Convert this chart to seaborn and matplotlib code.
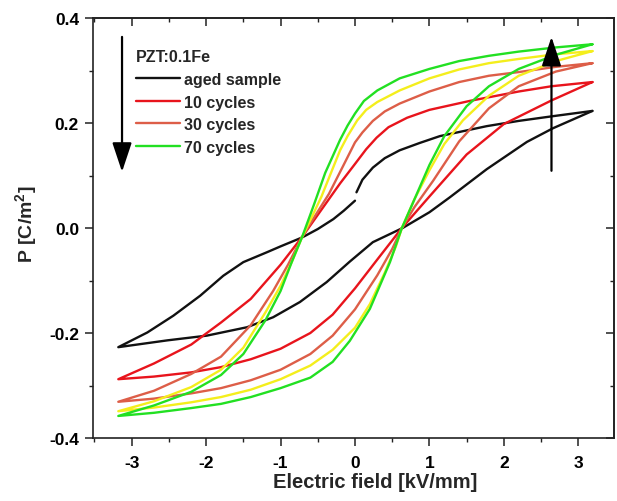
import matplotlib
matplotlib.use("Agg")
import matplotlib.pyplot as plt
import seaborn as sns
import pandas as pd
from matplotlib.ticker import MultipleLocator
from matplotlib.patches import ArrowStyle
from matplotlib.lines import Line2D

# ---------------- data ----------------
# aged sample (black): upper branch split at E=0 (gap in the measurement)
aged_up1_E = [3.19, 2.66, 2.2, 1.77, 1.14, 0.87, 0.6, 0.4, 0.24, 0.1, 0.02]
aged_up1_P = [0.223, 0.213, 0.204, 0.194, 0.175, 0.162, 0.148, 0.133, 0.115, 0.092, 0.068]
aged_up2_E = [0.0, -0.15, -0.29, -0.5, -0.71, -1.0, -1.18, -1.5, -1.77, -2.08, -2.44, -2.79, -3.18]
aged_up2_P = [0.052, 0.033, 0.017, -0.002, -0.018, -0.035, -0.046, -0.065, -0.091, -0.129, -0.167, -0.199, -0.227]
aged_lo_E = [-3.18, -2.52, -1.99, -1.45, -1.10, -0.74, -0.38, -0.07, 0.24, 0.64, 1.0, 1.27, 1.77, 2.31, 2.66, 3.19]
aged_lo_P = [-0.227, -0.214, -0.205, -0.189, -0.170, -0.141, -0.103, -0.064, -0.027, 0.0, 0.03, 0.058, 0.112, 0.164, 0.190, 0.223]

# 10 cycles (red)
c10_up_E = [3.19, 2.64, 2.2, 1.54, 1.0, 0.7, 0.45, 0.29, 0.15, 0.0, -0.2, -0.45, -0.71, -1.0, -1.4, -1.8, -2.2, -2.7, -3.18]
c10_up_P = [0.278, 0.27, 0.26, 0.242, 0.225, 0.21, 0.192, 0.172, 0.15, 0.122, 0.085, 0.035, -0.017, -0.07, -0.135, -0.18, -0.222, -0.258, -0.288]
c10_lo_E = [-3.18, -2.7, -2.2, -1.8, -1.4, -1.0, -0.6, -0.3, 0.0, 0.3, 0.63, 1.0, 1.5, 2.0, 2.64, 3.19]
c10_lo_P = [-0.288, -0.283, -0.275, -0.265, -0.25, -0.23, -0.2, -0.165, -0.115, -0.06, 0.0, 0.06, 0.14, 0.198, 0.243, 0.278]

# 30 cycles (salmon)
c30_up_E = [3.19, 2.7, 2.2, 1.8, 1.4, 1.0, 0.6, 0.4, 0.24, 0.1, 0.0, -0.16, -0.35, -0.55, -0.71, -0.9, -1.1, -1.4, -1.8, -2.2, -2.7, -3.18]
c30_up_P = [0.314, 0.307, 0.297, 0.29, 0.278, 0.26, 0.237, 0.222, 0.204, 0.182, 0.163, 0.118, 0.065, 0.02, -0.017, -0.07, -0.12, -0.185, -0.245, -0.278, -0.31, -0.331]
c30_lo_E = [-3.18, -2.7, -2.2, -1.8, -1.4, -1.0, -0.6, -0.3, 0.0, 0.3, 0.5, 0.63, 0.8, 1.05, 1.4, 1.8, 2.2, 2.7, 3.19]
c30_lo_P = [-0.331, -0.325, -0.315, -0.305, -0.29, -0.27, -0.24, -0.205, -0.155, -0.09, -0.04, 0.0, 0.04, 0.09, 0.165, 0.228, 0.27, 0.298, 0.314]

# 50 cycles (yellow, not in legend)
c50_up_E = [3.19, 2.7, 2.2, 1.8, 1.4, 1.0, 0.6, 0.3, 0.15, 0.03, -0.1, -0.2, -0.3, -0.45, -0.6, -0.71, -0.85, -1.0, -1.2, -1.5, -1.8, -2.2, -2.7, -3.18]
c50_up_P = [0.337, 0.331, 0.322, 0.314, 0.302, 0.285, 0.262, 0.24, 0.225, 0.205, 0.175, 0.148, 0.113, 0.06, 0.015, -0.017, -0.065, -0.11, -0.16, -0.228, -0.27, -0.303, -0.33, -0.349]
c50_lo_E = [-3.18, -2.7, -2.2, -1.8, -1.4, -1.0, -0.6, -0.3, 0.0, 0.2, 0.4, 0.55, 0.63, 0.8, 1.0, 1.2, 1.45, 1.8, 2.2, 2.7, 3.19]
c50_lo_P = [-0.349, -0.342, -0.332, -0.322, -0.308, -0.288, -0.262, -0.232, -0.19, -0.145, -0.085, -0.035, 0.0, 0.055, 0.11, 0.16, 0.205, 0.252, 0.29, 0.318, 0.337]

# 70 cycles (green)
c70_up_E = [3.19, 2.7, 2.2, 1.8, 1.4, 1.0, 0.6, 0.3, 0.12, 0.0, -0.1, -0.2, -0.4, -0.55, -0.71, -0.85, -1.0, -1.2, -1.5, -1.8, -2.2, -2.7, -3.18]
c70_up_P = [0.350, 0.344, 0.336, 0.328, 0.318, 0.303, 0.285, 0.262, 0.242, 0.218, 0.195, 0.168, 0.105, 0.045, -0.017, -0.065, -0.12, -0.175, -0.24, -0.28, -0.312, -0.338, -0.358]
c70_lo_E = [-3.18, -2.7, -2.2, -1.8, -1.4, -1.0, -0.6, -0.3, -0.07, 0.2, 0.47, 0.63, 0.8, 1.0, 1.2, 1.5, 1.8, 2.2, 2.7, 3.19]
c70_lo_P = [-0.358, -0.352, -0.343, -0.335, -0.322, -0.305, -0.285, -0.255, -0.215, -0.154, -0.065, 0.0, 0.055, 0.12, 0.175, 0.232, 0.27, 0.303, 0.33, 0.350]

legend_title = "PZT:0.1Fe"
labels = ["aged sample", "10 cycles", "30 cycles", "70 cycles"]
x_ticks = [-3, -2, -1, 0, 1, 2, 3]
y_ticks = [-0.4, -0.2, 0.0, 0.2, 0.4]
y_tick_labels = ["-0.4", "-0.2", "0.0", "0.2", "0.4"]

# arrows (annotation)
arrow_down = dict(x=-3.13, y_from=0.364, y_to=0.107)
arrow_up = dict(x=2.64, y_from=0.109, y_to=0.364)

# ---------------- styling ----------------
sns.set_style("ticks")
plt.rcParams["font.family"] = ["Liberation Sans", "DejaVu Sans"]
plt.rcParams["font.weight"] = "bold"
plt.rcParams["axes.labelweight"] = "bold"
plt.rcParams["axes.unicode_minus"] = False
plt.rcParams["mathtext.fontset"] = "custom"
plt.rcParams["mathtext.rm"] = "Liberation Sans:bold"
plt.rcParams["mathtext.bf"] = "Liberation Sans:bold"
plt.rcParams["mathtext.it"] = "Liberation Sans:bold"

COL_BLACK = "#111111"
COL_RED = "#e8141c"
COL_SALMON = "#dd5e48"
COL_YELLOW = "#f4ee1c"
COL_GREEN = "#22e022"
LW = 1.7

fig = plt.figure(figsize=(6.17, 5.02), dpi=100)
ax = fig.add_axes([93 / 617, 1 - 439 / 502, (614 - 93) / 617, (439 - 19) / 502])


def draw(E, P, color):
    df = pd.DataFrame({"E": E, "P": P})
    sns.lineplot(data=df, x="E", y="P", sort=False, estimator=None, color=color,
                 linewidth=LW, ax=ax, legend=False)


draw(aged_up1_E, aged_up1_P, COL_BLACK)
draw(aged_up2_E + aged_lo_E, aged_up2_P + aged_lo_P, COL_BLACK)
draw(c10_up_E + c10_lo_E, c10_up_P + c10_lo_P, COL_RED)
draw(c30_up_E + c30_lo_E, c30_up_P + c30_lo_P, COL_SALMON)
draw(c50_up_E + c50_lo_E, c50_up_P + c50_lo_P, COL_YELLOW)
draw(c70_up_E + c70_lo_E, c70_up_P + c70_lo_P, COL_GREEN)

# legend
handles = [Line2D([], [], color=c, lw=LW) for c in (COL_BLACK, COL_RED, COL_SALMON, COL_GREEN)]
leg = ax.legend(handles, labels, title=legend_title, loc="upper left",
                bbox_to_anchor=(0.083, 0.925), frameon=False, fontsize=11.5,
                title_fontproperties={"weight": "bold", "size": 11.5},
                handlelength=2.75, handletextpad=0.25, labelspacing=0.47,
                borderpad=0, borderaxespad=0, alignment="left")

# arrows
style = ArrowStyle("-|>", head_length=0.9, head_width=0.3)
for a in (arrow_down, arrow_up):
    ax.annotate("", xy=(a["x"], a["y_to"]), xytext=(a["x"], a["y_from"]),
                arrowprops=dict(arrowstyle=style, color="black", lw=1.6,
                                mutation_scale=20, shrinkA=0, shrinkB=0))

# axes
ax.set_xlim(-3.52, 3.48)
ax.set_ylim(-0.4, 0.4)
ax.set_xticks(x_ticks)
ax.set_xticklabels([str(v) for v in x_ticks])
ax.set_yticks(y_ticks)
ax.set_yticklabels(y_tick_labels)
ax.xaxis.set_minor_locator(MultipleLocator(0.5))
ax.yaxis.set_minor_locator(MultipleLocator(0.1))
ax.tick_params(axis="both", which="major", direction="out", length=6, width=1.1,
               labelsize=12.5, pad=4, colors="#222222", labelcolor="black")
ax.tick_params(axis="both", which="minor", direction="out", length=3, width=1.0,
               colors="#222222")
ax.tick_params(axis="x", which="major", pad=6)
for s in ax.spines.values():
    s.set_linewidth(1.2)
    s.set_color("#222222")
    s.set_visible(True)

secx = ax.secondary_xaxis("top")
secx.set_xticks(x_ticks)
secx.xaxis.set_minor_locator(MultipleLocator(0.5))
secx.tick_params(axis="x", which="major", direction="in", length=6, width=1.1,
                 labeltop=False, colors="#222222")
secx.tick_params(axis="x", which="minor", direction="in", length=3, width=1.0,
                 colors="#222222")
secx.spines["top"].set_linewidth(1.2)
secy = ax.secondary_yaxis("right")
secy.set_yticks(y_ticks)
secy.yaxis.set_minor_locator(MultipleLocator(0.1))
secy.tick_params(axis="y", which="major", direction="in", length=6, width=1.1,
                 labelright=False, colors="#222222")
secy.tick_params(axis="y", which="minor", direction="in", length=3, width=1.0,
                 colors="#222222")
secy.spines["right"].set_linewidth(1.2)

ax.set_xlabel("Electric field [kV/mm]", fontsize=14.5, fontweight="bold")
ax.set_ylabel(r"P [C/m$^{2}$]", fontsize=14, fontweight="bold")
ax.xaxis.set_label_coords((375 - 93) / 521, -0.081)
ax.yaxis.set_label_coords(-0.103, 0.51)

fig.savefig("out.png", dpi=100)
